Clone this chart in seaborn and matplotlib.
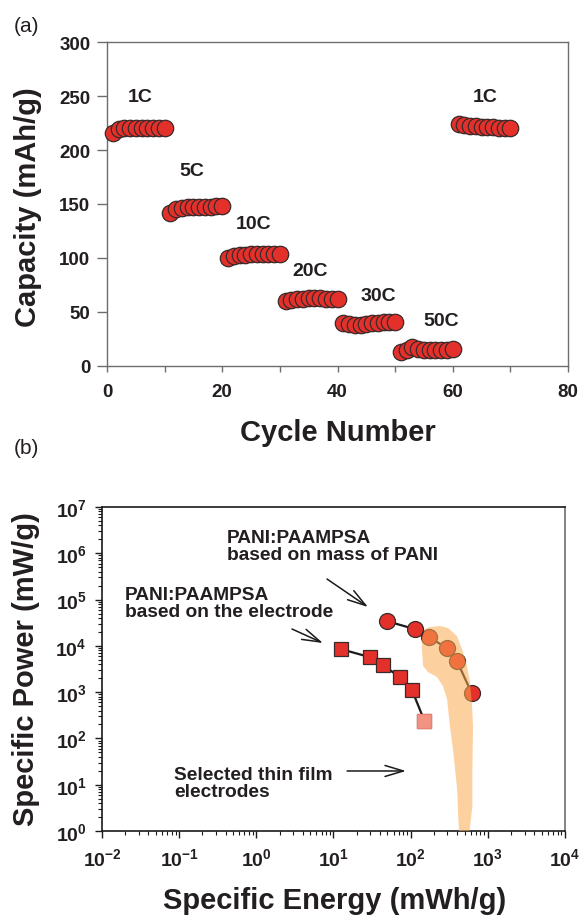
import numpy as np
import pandas as pd
import matplotlib
matplotlib.use("Agg")
import matplotlib.pyplot as plt
import seaborn as sns
from matplotlib.ticker import FixedLocator, FuncFormatter, LogLocator, NullFormatter

# ---------------- data: rate capability ----------------
cycle_1c_a = list(range(1, 11))
cap_1c_a = [216, 219, 220, 220, 220, 220, 220, 220, 220, 220]
cycle_5c = list(range(11, 21))
cap_5c = [142, 145, 146, 147, 147, 147, 147, 147, 148, 148]
cycle_10c = list(range(21, 31))
cap_10c = [100, 102, 103, 103, 104, 104, 104, 104, 104, 104]
cycle_20c = list(range(31, 41))
cap_20c = [60, 61, 62, 62, 63, 63, 63, 62, 62, 62]
cycle_30c = list(range(41, 51))
cap_30c = [40, 39, 38, 38, 39, 40, 40, 41, 41, 41]
cycle_50c = list(range(51, 61))
cap_50c = [13, 15, 18, 16, 15, 15, 15, 15, 15, 16]
cycle_1c_b = list(range(61, 71))
cap_1c_b = [224, 223, 222, 222, 221, 221, 221, 220, 220, 220]

rate_labels = ["1C", "5C", "10C", "20C", "30C", "50C", "1C"]
rate_label_x = [5.7, 14.8, 25.5, 35.3, 47.0, 58.0, 65.6]
rate_label_y = [250, 181, 132, 88, 65, 42, 250]

# ---------------- data: Ragone plot ----------------
mass_energy = [49, 113, 172, 295, 398, 617]          # mWh/g
mass_power = [34300, 23000, 15500, 8950, 4700, 955]   # mW/g
elec_energy = [12.5, 29.6, 43.5, 72, 104, 151]
elec_power = [8500, 5700, 3850, 2130, 1110, 238]

# outline of the region covered by selected thin-film electrodes
film_energy = [153, 178, 240, 305, 398, 462, 537, 587, 624, 643, 630, 630, 600,
               560, 430, 415, 400, 353, 323, 296, 262, 219, 168, 145, 140, 140]
film_power = [23100, 25500, 26900, 24300, 16300, 8550, 3660, 1660, 500, 185, 18.8,
              3.47, 1.64, 0.6, 0.6, 1.82, 8.07, 59, 185, 711, 1355, 2120, 2720,
              3660, 8550, 14060]

energy_ticks = [1e-2, 1e-1, 1e0, 1e1, 1e2, 1e3, 1e4]
power_ticks = [1e0, 1e1, 1e2, 1e3, 1e4, 1e5, 1e6, 1e7]

# ---------------- style ----------------
sns.set_theme(style="ticks")
plt.rcParams["font.family"] = ["Liberation Sans", "DejaVu Sans"]
plt.rcParams["mathtext.fontset"] = "custom"
plt.rcParams["mathtext.rm"] = "Liberation Sans"
plt.rcParams["mathtext.bf"] = "Liberation Sans:bold"
plt.rcParams["mathtext.it"] = "Liberation Sans:italic"

RED = "#E4302A"
EDGE = "#3a2a2a"
TXT = "#231f20"

W, H = 582, 920
fig = plt.figure(figsize=(W / 100, H / 100), dpi=100)
fig.patch.set_facecolor("white")


def px_axes(x0, y0, x1, y1):
    return fig.add_axes([x0 / W, 1 - y1 / H, (x1 - x0) / W, (y1 - y0) / H])


# ================= (a) capacity vs cycle =================
ax1 = px_axes(107, 43, 568, 367)
rate_df = pd.DataFrame({
    "cycle": cycle_1c_a + cycle_5c + cycle_10c + cycle_20c + cycle_30c + cycle_50c + cycle_1c_b,
    "capacity": cap_1c_a + cap_5c + cap_10c + cap_20c + cap_30c + cap_50c + cap_1c_b,
})
sns.scatterplot(data=rate_df, x="cycle", y="capacity", ax=ax1, s=140,
                color=RED, edgecolor=EDGE, linewidth=0.9, clip_on=False, zorder=3)
ax1.set_xlim(0, 80)
ax1.set_ylim(0, 300)
ax1.xaxis.set_major_locator(FixedLocator([0, 20, 40, 60, 80]))
ax1.xaxis.set_minor_locator(FixedLocator([10, 30, 50, 70]))
ax1.yaxis.set_major_locator(FixedLocator([0, 50, 100, 150, 200, 250, 300]))
for s in ax1.spines.values():
    s.set_color("#6d6d6d")
    s.set_linewidth(1.0)
ax1.tick_params(axis="x", which="both", direction="out", length=4, width=1.0,
                color="#6d6d6d", pad=8, labelsize=13.5, labelcolor=TXT)
ax1.tick_params(axis="y", which="both", direction="out", length=7, width=1.0,
                color="#6d6d6d", pad=5, labelsize=13.5, labelcolor=TXT)
for lab in ax1.get_xticklabels() + ax1.get_yticklabels():
    lab.set_fontweight("bold")
for t, x, y in zip(rate_labels, rate_label_x, rate_label_y):
    ax1.text(x, y, t, ha="center", va="center", fontsize=14, fontweight="bold", color=TXT)
ax1.set_xlabel("Cycle Number", fontsize=21, fontweight="bold", color=TXT)
ax1.set_ylabel("Capacity (mAh/g)", fontsize=21, fontweight="bold", color=TXT)
ax1.xaxis.label.set_va("center")
ax1.yaxis.label.set_va("center")
ax1.xaxis.set_label_coords((338 - 107) / 461, (367 - 433) / 324)
ax1.yaxis.set_label_coords((28 - 107) / 461, (367 - 207) / 324)

# ================= (b) Ragone plot =================
ax2 = px_axes(102, 508, 565, 832)
ax2.set_xscale("log")
ax2.set_yscale("log")

sns.lineplot(x=mass_energy, y=mass_power, ax=ax2, color="#1a1a1a", linewidth=1.6,
             marker="o", markersize=11.5, markerfacecolor=RED, markeredgecolor=EDGE,
             markeredgewidth=0.9, estimator=None, sort=False, zorder=3)
sns.lineplot(x=elec_energy, y=elec_power, ax=ax2, color="#1a1a1a", linewidth=1.6,
             marker="s", markersize=10, markerfacecolor=RED, markeredgecolor=EDGE,
             markeredgewidth=0.9, estimator=None, sort=False, zorder=3)
# the highest-energy electrode point is drawn in a lighter tint
ax2.plot(elec_energy[-1:], elec_power[-1:], linestyle="none", marker="s", markersize=10,
         markerfacecolor="#F39383", markeredgecolor="#EE8070", markeredgewidth=0.9, zorder=4)

ax2.fill(film_energy, film_power, color="#FCAA50", alpha=0.55, linewidth=0, zorder=5)

ax2.set_xlim(1e-2, 1e4)
ax2.set_ylim(1e0, 1e7)
ax2.xaxis.set_major_locator(FixedLocator(energy_ticks))
ax2.yaxis.set_major_locator(FixedLocator(power_ticks))
ax2.xaxis.set_minor_locator(LogLocator(base=10, subs=np.arange(2, 10), numticks=20))
ax2.yaxis.set_minor_locator(LogLocator(base=10, subs=np.arange(2, 10), numticks=20))
ax2.xaxis.set_minor_formatter(NullFormatter())
ax2.yaxis.set_minor_formatter(NullFormatter())
pow_fmt = FuncFormatter(lambda v, p: r"$\mathbf{10^{%d}}$" % int(round(np.log10(v))))
ax2.xaxis.set_major_formatter(pow_fmt)
ax2.yaxis.set_major_formatter(pow_fmt)
for s in ax2.spines.values():
    s.set_color("#1a1a1a")
    s.set_linewidth(1.2)
ax2.spines["right"].set_color("#6d6d6d")
ax2.tick_params(axis="both", which="major", direction="out", length=5, width=1.0,
                color="#1a1a1a", labelsize=14, labelcolor=TXT)
ax2.tick_params(axis="both", which="minor", direction="out", length=3, width=0.8,
                color="#1a1a1a")
ax2.tick_params(axis="x", which="major", pad=7)
ax2.tick_params(axis="y", which="major", pad=6)

ax2.set_xlabel("Specific Energy (mWh/g)", fontsize=21, fontweight="bold", color=TXT)
ax2.set_ylabel("Specific Power (mW/g)", fontsize=21, fontweight="bold", color=TXT)
ax2.xaxis.label.set_va("center")
ax2.yaxis.label.set_va("center")
ax2.xaxis.set_label_coords((335 - 102) / 463, (832 - 901) / 324)
ax2.yaxis.set_label_coords((26 - 102) / 463, (832 - 669) / 324)

ann_kw = dict(fontsize=13.8, fontweight="bold", color=TXT, ha="left", va="center",
              linespacing=1.05)
arrow_kw = dict(arrowstyle="->,head_length=1.1,head_width=0.33", color="#1a1a1a",
                lw=1.1, mutation_scale=12, shrinkA=0, shrinkB=0)
ax2.text(0.417, 1.43e6, "PANI:PAAMPSA\nbased on mass of PANI", **ann_kw)
ax2.annotate("", xy=(28, 6.9e4), xytext=(8.24, 2.78e5), arrowprops=arrow_kw)
ax2.text(0.0199, 8.4e4, "PANI:PAAMPSA\nbased on the electrode", **ann_kw)
ax2.annotate("", xy=(7.3, 1.15e4), xytext=(2.9, 2.31e4), arrowprops=arrow_kw)
ax2.text(0.0858, 10.9, "Selected thin film\nelectrodes", **ann_kw)
ax2.annotate("", xy=(87, 19.8), xytext=(15, 19.8), arrowprops=arrow_kw)

# panel letters
fig.text(14 / W, 1 - 27 / H, "(a)", fontsize=15, color=TXT, ha="left", va="center")
fig.text(14 / W, 1 - 448 / H, "(b)", fontsize=15, color=TXT, ha="left", va="center")

fig.savefig("out.png", dpi=100, facecolor="white")
